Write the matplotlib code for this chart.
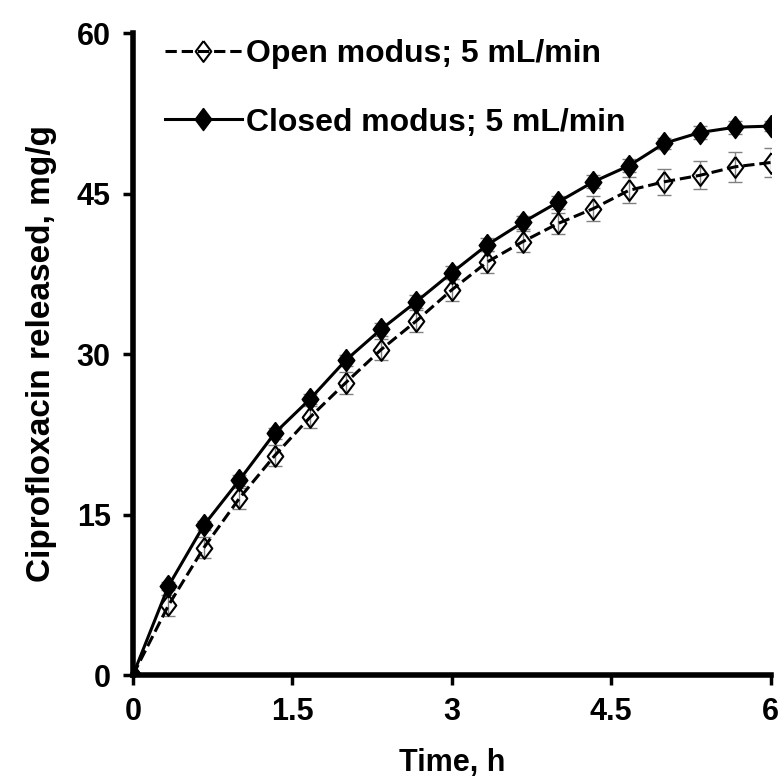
import numpy as np
import matplotlib
matplotlib.use("Agg")
import matplotlib.pyplot as plt

plt.rcParams['font.family'] = ['Liberation Sans', 'DejaVu Sans']
plt.rcParams['font.weight'] = 'bold'

time_h = [0, 0.333, 0.667, 1.0, 1.333, 1.667, 2.0, 2.333, 2.667, 3.0,
          3.333, 3.667, 4.0, 4.333, 4.667, 5.0, 5.333, 5.667, 6.0]
open_mg = [0, 6.5, 11.9, 16.5, 20.5, 24.1, 27.3, 30.4, 33.1, 36.0,
           38.6, 40.5, 42.2, 43.6, 45.3, 46.1, 46.7, 47.5, 47.9]
open_err = [0, 1.0, 1.0, 1.0, 1.0, 1.0, 1.0, 1.0, 1.0, 1.0,
            1.0, 1.0, 1.0, 1.2, 1.2, 1.2, 1.3, 1.4, 1.4]
closed_mg = [0, 8.3, 14.0, 18.2, 22.6, 25.8, 29.4, 32.3, 34.9, 37.6,
             40.2, 42.3, 44.2, 46.1, 47.6, 49.7, 50.7, 51.2, 51.3]
closed_err = [0, 0.4, 0.4, 0.5, 0.5, 0.5, 0.5, 0.6, 0.6, 0.6,
              0.6, 0.6, 0.6, 0.6, 0.6, 0.5, 0.6, 0.6, 0.5]

# tall diamond, like the stretched one in the picture
diamond = [(0, 1.2), (0.9, 0), (0, -1.2), (-0.9, 0), (0, 1.2)]

fig = plt.figure(figsize=(7.84, 7.81), dpi=100)
ax = fig.add_axes([0.1696, 0.1357, 0.8134, 0.822])

ax.errorbar(time_h, open_mg, yerr=open_err, fmt='none', ecolor='#808080',
            elinewidth=1, capsize=5, zorder=2)
ax.errorbar(time_h, closed_mg, yerr=closed_err, fmt='none', ecolor='#808080',
            elinewidth=1, capsize=5, zorder=2)
ax.plot(time_h, open_mg, linestyle='--', color='black', linewidth=2.2,
        marker=diamond, markersize=15, markerfacecolor='none',
        markeredgecolor='black', markeredgewidth=1.5,
        label='Open modus; 5 mL/min', zorder=3)
ax.plot(time_h, closed_mg, linestyle='-', color='black', linewidth=2.2,
        marker=diamond, markersize=16, markerfacecolor='black',
        markeredgecolor='black', label='Closed modus; 5 mL/min', zorder=4)

ax.set_xlim(0, 6)
ax.set_ylim(0, 60)
ax.set_xticks([0, 1.5, 3, 4.5, 6])
ax.set_xticklabels(['0', '1.5', '3', '4.5', '6'])
ax.set_yticks([0, 15, 30, 45, 60])
ax.tick_params(labelsize=22, width=2.5, length=7, direction='out', pad=9)
for s in ['top', 'right']:
    ax.spines[s].set_visible(False)
for s in ['left', 'bottom']:
    ax.spines[s].set_linewidth(4)
ax.set_xlabel('Time, h', fontsize=22, fontweight='bold', labelpad=15)
ax.set_ylabel('Ciprofloxacin released, mg/g', fontsize=24, fontweight='bold', labelpad=14)

leg = ax.legend(loc='upper left', bbox_to_anchor=(0.005, 1.035), frameon=False,
                fontsize=23, handlelength=2.4, handletextpad=0.15, labelspacing=1.2)
for t in leg.get_texts():
    t.set_fontweight('bold')

fig.savefig('out.png', dpi=100)
